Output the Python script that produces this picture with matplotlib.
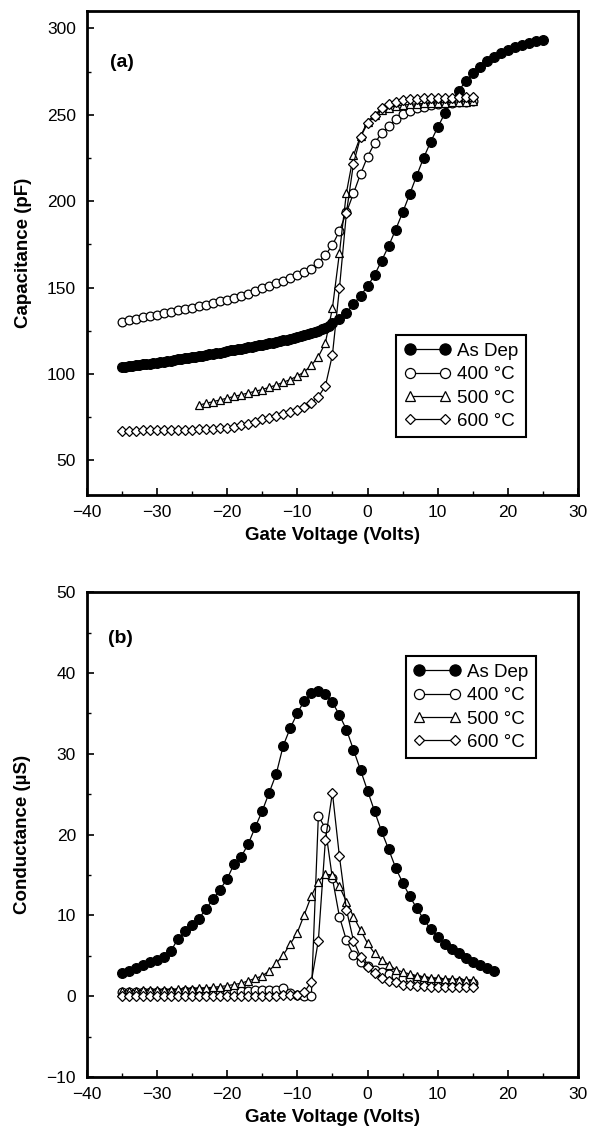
import numpy as np
import matplotlib
matplotlib.use("Agg")
import matplotlib.pyplot as plt
from matplotlib.ticker import MultipleLocator

plt.rcParams['font.family'] = ['Liberation Sans', 'DejaVu Sans']

# ---------------- Panel (a): Capacitance ----------------
asdep_a_v = list(np.arange(-35.0, -5.0, 0.5)) + list(range(-5, 26))
asdep_a_c = [104.0, 104.25, 104.5, 104.75, 105.0, 105.25, 105.5, 105.75, 106.0, 106.3,
             106.6, 106.9, 107.2, 107.5, 107.8, 108.1, 108.4, 108.7, 109.0, 109.3,
             109.6, 109.9, 110.3, 110.6, 111.0, 111.3, 111.7, 112.0, 112.4, 112.8,
             113.2, 113.6, 114.0, 114.3, 114.7, 115.0, 115.4, 115.8, 116.2, 116.6,
             117.0, 117.4, 117.8, 118.2, 118.6, 119.0, 119.4, 119.9, 120.4, 120.9,
             121.4, 121.9, 122.4, 123.0, 123.6, 124.3, 125.0, 125.8, 126.7, 127.8,
             129.3, 131.7, 135.5, 140.3, 145.3, 150.7, 157.3, 165.5, 174.0, 183.5,
             193.5, 204.0, 214.8, 225.2, 234.4, 242.8, 250.8, 257.5, 264.0, 269.5,
             274.0, 277.8, 281.0, 283.6, 285.8, 287.6, 289.1, 290.3, 291.4, 292.4, 293.2]

c400_v = list(range(-35, 16))
c400_c = [130.0, 131.0, 132.0, 132.8, 133.6, 134.4, 135.2, 136.0, 136.8, 137.6,
          138.4, 139.2, 140.0, 141.0, 142.0, 143.0, 144.0, 145.0, 146.5, 148.0,
          149.5, 151.0, 152.5, 154.0, 155.5, 157.0, 158.8, 161.0, 164.4, 168.8,
          174.6, 182.7, 193.5, 204.5, 215.7, 225.7, 233.5, 239.2, 243.5, 247.3,
          250.2, 252.3, 253.7, 254.6, 255.6, 256.2, 256.6, 257.0, 257.3, 257.6, 257.8]

c500_v = list(range(-24, 16))
c500_c = [82.0, 83.0, 84.0, 85.0, 86.0, 87.0, 88.0, 89.0, 90.0, 91.0,
          92.3, 93.6, 95.2, 96.8, 98.8, 101.3, 105.0, 110.0, 118.0, 138.0,
          170.0, 205.0, 226.5, 237.5, 246.0, 250.0, 252.5, 254.0, 255.0, 255.5,
          256.0, 256.3, 256.5, 256.7, 256.9, 257.0, 257.2, 257.4, 257.6, 257.8]

c600_v = list(range(-35, 16))
c600_c = [67.3, 67.3, 67.3, 67.4, 67.4, 67.5, 67.5, 67.6, 67.7, 67.8,
          67.8, 67.9, 68.0, 68.3, 68.6, 69.0, 69.6, 70.5, 71.3, 72.5,
          73.8, 74.7, 75.7, 76.7, 77.8, 79.2, 81.0, 83.3, 86.9, 93.0,
          111.0, 149.6, 193.3, 221.7, 237.0, 245.0, 249.5, 254.0, 256.0, 257.5,
          258.5, 259.0, 259.3, 259.5, 259.6, 259.7, 259.8, 259.9, 260.0, 260.0, 260.0]

# ---------------- Panel (b): Conductance ----------------
asdep_b_v = list(range(-35, 19))
asdep_b_g = [2.93, 3.15, 3.51, 3.87, 4.19, 4.5, 4.86, 5.54, 7.12, 8.02,
             8.78, 9.6, 10.8, 12.0, 13.2, 14.5, 16.35, 17.25, 18.8, 20.9,
             22.9, 25.2, 27.5, 31.0, 33.2, 35.0, 36.6, 37.5, 37.8, 37.4,
             36.4, 34.8, 33.0, 30.5, 28.0, 25.45, 22.9, 20.4, 18.2, 15.9,
             14.05, 12.4, 10.88, 9.52, 8.28, 7.37, 6.46, 5.84, 5.3, 4.77,
             4.27, 3.86, 3.53, 3.12]

g400_v = list(range(-35, 16))
g400_g = [0.5, 0.5, 0.5, 0.5, 0.5, 0.55, 0.55, 0.55, 0.55, 0.6,
          0.6, 0.6, 0.6, 0.65, 0.65, 0.65, 0.7, 0.7, 0.7, 0.75,
          0.75, 0.8, 0.8, 1.0, 0.4, 0.1, 0.0, 0.0, 22.3, 20.8,
          14.6, 9.85, 6.9, 5.1, 4.2, 3.7, 3.3, 3.0, 2.7, 2.5,
          2.3, 2.2, 2.1, 2.0, 1.9, 1.85, 1.8, 1.75, 1.7, 1.65, 1.6]

g500_v = list(range(-35, 16))
g500_g = [0.65, 0.67, 0.7, 0.72, 0.75, 0.78, 0.8, 0.83, 0.86, 0.9,
          0.95, 1.0, 1.05, 1.1, 1.2, 1.3, 1.45, 1.6, 1.9, 2.2,
          2.5, 3.15, 4.07, 5.1, 6.46, 7.86, 10.1, 12.4, 14.2, 15.1,
          15.0, 13.6, 11.7, 9.85, 8.2, 6.55, 5.3, 4.5, 3.9, 3.3,
          3.0, 2.75, 2.55, 2.4, 2.3, 2.2, 2.15, 2.1, 2.05, 2.0, 2.0]

g600_v = list(range(-35, 16))
g600_g = [0.05, 0.05, 0.05, 0.05, 0.05, 0.05, 0.05, 0.05, 0.05, 0.05,
          0.05, 0.05, 0.05, 0.05, 0.05, 0.05, 0.05, 0.05, 0.05, 0.05,
          0.05, 0.05, 0.05, 0.1, 0.1, 0.2, 0.5, 1.8, 6.87, 19.3,
          25.2, 17.3, 10.7, 6.87, 4.9, 3.65, 2.83, 2.2, 1.9, 1.7,
          1.45, 1.35, 1.3, 1.25, 1.2, 1.2, 1.15, 1.15, 1.15, 1.15, 1.2]

labels = ["As Dep", "400 °C", "500 °C", "600 °C"]

W, H = 589, 1131
fig = plt.figure(figsize=(W / 100, H / 100), dpi=100)

left = 86.5 / W
width = (578.3 - 86.5) / W
ax_a = fig.add_axes([left, 1 - 495 / H, width, (495 - 11) / H])
ax_b = fig.add_axes([left, 1 - 1077 / H, width, (1077 - 592.3) / H])

lw = 0.9
mew = 0.9
styles = [
    dict(marker='o', ms=7.0, mfc='black', mec='black'),
    dict(marker='o', ms=6.3, mfc='white', mec='black'),
    dict(marker='^', ms=6.2, mfc='white', mec='black'),
    dict(marker='D', ms=4.8, mfc='white', mec='black'),
]


def draw(ax, series):
    handles = []
    for (v, y), st, lab in zip(series, styles, labels):
        h, = ax.plot(v, y, color='black', lw=lw, mew=mew, label=lab, **st)
        handles.append(h)
    return handles


ha = draw(ax_a, [(asdep_a_v, asdep_a_c), (c400_v, c400_c), (c500_v, c500_c), (c600_v, c600_c)])
hb = draw(ax_b, [(asdep_b_v, asdep_b_g), (g400_v, g400_g), (g500_v, g500_g), (g600_v, g600_g)])

for ax in (ax_a, ax_b):
    ax.set_xlim(-40, 30)
    ax.xaxis.set_major_locator(MultipleLocator(10))
    ax.xaxis.set_minor_locator(MultipleLocator(5))
    for s in ax.spines.values():
        s.set_linewidth(2.0)
    ax.tick_params(which='both', direction='in', top=False, right=False,
                   labelsize=12.5, pad=7.5)
    ax.tick_params(which='major', length=5, width=1.2)
    ax.tick_params(which='minor', length=3, width=1.0)
    ax.set_xlabel("Gate Voltage (Volts)", fontsize=13.5, fontweight='bold', labelpad=5)

ax_a.set_ylim(30, 310)
ax_a.yaxis.set_major_locator(MultipleLocator(50))
ax_a.yaxis.set_minor_locator(MultipleLocator(25))
ax_a.set_ylabel("Capacitance (pF)", fontsize=13.5, fontweight='bold', labelpad=11)

ax_b.set_ylim(-10, 50)
ax_b.yaxis.set_major_locator(MultipleLocator(10))
ax_b.yaxis.set_minor_locator(MultipleLocator(5))
ax_b.set_ylabel("Conductance (µS)", fontsize=13.5, fontweight='bold', labelpad=11)

ax_a.text(0.073, 0.894, "(a)", transform=ax_a.transAxes, fontsize=14,
          fontweight='bold', ha='center', va='center')
ax_b.text(0.069, 0.905, "(b)", transform=ax_b.transAxes, fontsize=14,
          fontweight='bold', ha='center', va='center')

leg_kw = dict(numpoints=2, handlelength=2.5, handletextpad=0.35, labelspacing=0.33,
              borderpad=0.4, borderaxespad=0.0, fancybox=False, framealpha=1,
              edgecolor='black', fontsize=13.5, markerscale=1.15)
la = ax_a.legend(handles=ha, loc='lower right', bbox_to_anchor=(0.894, 0.119), **leg_kw)
lb = ax_b.legend(handles=hb, loc='upper right', bbox_to_anchor=(0.914, 0.868), **leg_kw)
for lg in (la, lb):
    lg.get_frame().set_linewidth(1.5)

fig.savefig("out.png", dpi=100)
